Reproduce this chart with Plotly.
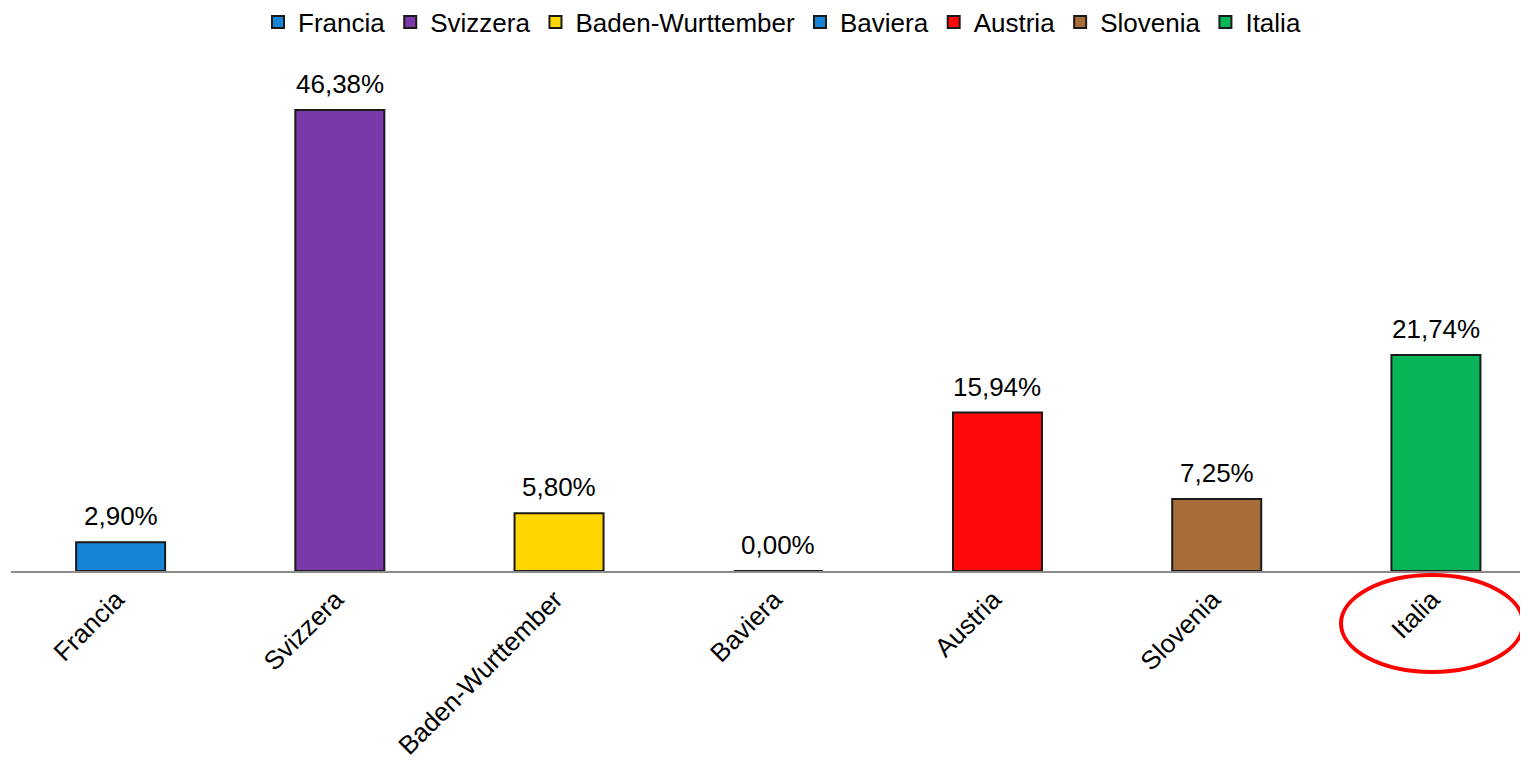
import plotly.graph_objects as go

categories = ["Francia", "Svizzera", "Baden-Wurttember", "Baviera", "Austria", "Slovenia", "Italia"]
values = [2.90, 46.38, 5.80, 0.00, 15.94, 7.25, 21.74]
colors = ["#1784d8", "#7a38a8", "#ffd600", "#1784d8", "#ff0a0a", "#a86e3a", "#08b556"]
labels = [f"{v:.2f}".replace(".", ",") + "%" for v in values]

FONT = "Liberation Sans, Arial"
FS = 26

fig = go.Figure()
for c, v, col in zip(categories, values, colors):
    fig.add_trace(go.Bar(
        x=[c], y=[v], name=c, width=0.406,
        marker=dict(color=col, line=dict(color="#1a1a1a", width=2)),
        showlegend=True,
    ))

for c, v, t in zip(categories, values, labels):
    fig.add_annotation(x=c, y=v, text=t, showarrow=False, yanchor="bottom", yshift=9,
                       font=dict(size=FS, color="#000000", family=FONT))

# page body has an 8px margin; work in reference pixel coords and offset
OFF = 8
W, H = 1528 - OFF, 760 - OFF
L, R, T = 11 - OFF, 0, 60 - OFF
B = H - (571 - OFF)
pw, ph = W - L - R, H - T - B

def px_x(x):
    return (x - OFF - L) / pw

def px_y(y):
    return (H - B - (y - OFF)) / ph

fig.add_shape(type="circle", xref="paper", yref="paper",
              x0=px_x(1341), x1=px_x(1523), y0=px_y(672), y1=px_y(575),
              line=dict(color="#ff0000", width=4))

fig.update_layout(
    width=W, height=H,
    margin=dict(l=L, r=R, t=T, b=B, autoexpand=False),
    barmode="overlay",
    plot_bgcolor="white", paper_bgcolor="white",
    font=dict(family=FONT, size=FS, color="#000000"),
    legend=dict(orientation="h", x=px_x(782), xanchor="center", y=px_y(22), yanchor="middle",
                font=dict(size=FS), itemwidth=30, traceorder="normal"),
    xaxis=dict(range=[-0.5, 6.42], showline=True, linecolor="#8c8c8c", linewidth=2,
               ticks="", tickangle=-45, tickfont=dict(size=FS), showgrid=False,
               ticklabelstandoff=1, ticklabelshift=-4, automargin=False),
    yaxis=dict(range=[0, ph / 9.94], visible=False, showgrid=False, zeroline=False),
)

fig.write_html("out.html")
